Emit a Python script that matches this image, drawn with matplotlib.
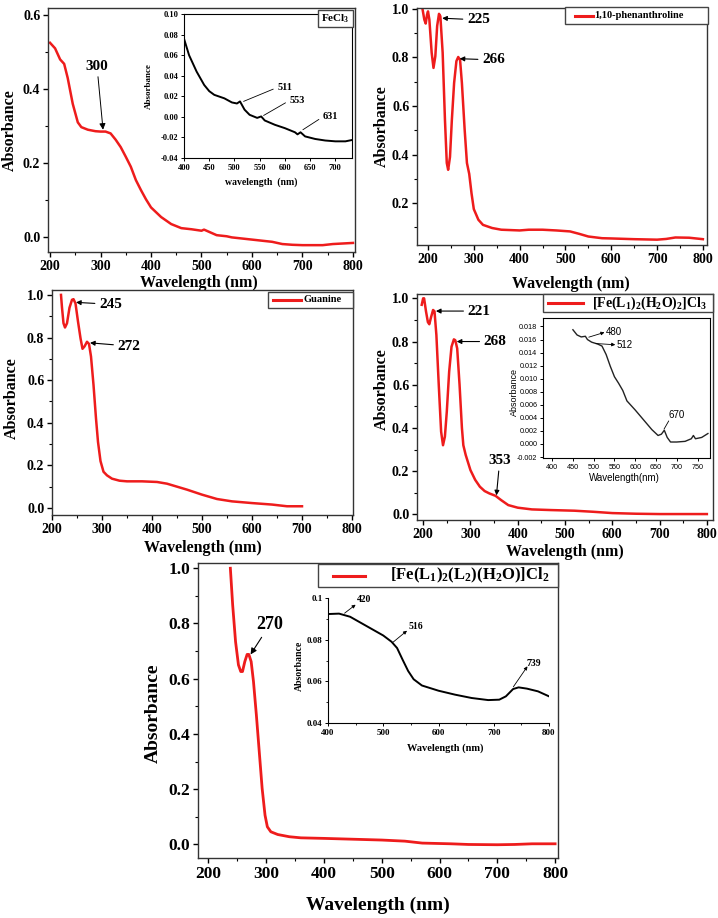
import matplotlib
matplotlib.use('Agg')
import matplotlib.pyplot as plt
from matplotlib.patches import Rectangle
from matplotlib.lines import Line2D
from matplotlib.ticker import FormatStrFormatter, MultipleLocator
import numpy as np

plt.rcParams['font.family'] = 'Liberation Serif'
plt.rcParams['font.weight'] = 'bold'
plt.rcParams['axes.labelweight'] = 'bold'
plt.rcParams['mathtext.fontset'] = 'custom'
plt.rcParams['mathtext.rm'] = 'Liberation Serif:bold'
plt.rcParams['mathtext.it'] = 'Liberation Serif:bold'
plt.rcParams['mathtext.bf'] = 'Liberation Serif:bold'

W, H = 718, 918
RED = '#ee1c1c'

# --- FeCl3 ---
fecl3_wl = [200, 210, 220, 228, 235, 245, 255, 262, 275, 290, 300, 310, 320, 330, 340, 350,
            360, 370, 380, 390, 400, 420, 440, 460, 480, 500, 505, 515, 530, 550, 560, 600,
            640, 660, 680, 700, 740, 760, 800]
fecl3_abs = [0.525, 0.51, 0.48, 0.468, 0.43, 0.36, 0.31, 0.297, 0.29, 0.286, 0.285, 0.285,
             0.28, 0.263, 0.243, 0.217, 0.19, 0.154, 0.127, 0.102, 0.08, 0.054, 0.035, 0.024,
             0.021, 0.017, 0.02, 0.014, 0.005, 0.002, -0.001, -0.007, -0.013, -0.019, -0.021,
             -0.022, -0.022, -0.019, -0.016]
fecl3_in_wl = [400, 410, 425, 440, 450, 460, 480, 495, 505, 511, 520, 530, 545, 553, 560, 580,
               600, 620, 625, 631, 640, 660, 680, 700, 720, 733]
fecl3_in_abs = [0.076, 0.06, 0.044, 0.031, 0.025, 0.0214, 0.018, 0.014, 0.013, 0.015, 0.007,
                0.002, -0.001, 0.0004, -0.0035, -0.0077, -0.011, -0.015, -0.017, -0.015,
                -0.019, -0.0215, -0.023, -0.0238, -0.0238, -0.0225]
fecl3_in_peaks = [511, 553, 631]

# --- 1,10-phenanthroline ---
phen_wl = [188, 192, 195, 198, 200, 203, 208, 212, 216, 220, 224, 227, 232, 237, 241, 244, 248,
           252, 257, 262, 266, 270, 274, 280, 285, 290, 295, 300, 310, 320, 340, 360, 400, 420,
           450, 480, 510, 530, 550, 580, 600, 650, 700, 720, 740, 770, 800]
phen_abs = [1.0, 0.956, 0.94, 0.977, 0.99, 0.956, 0.82, 0.757, 0.805, 0.93, 0.98, 0.97, 0.82,
            0.544, 0.365, 0.337, 0.39, 0.54, 0.695, 0.785, 0.802, 0.79, 0.695, 0.503, 0.365,
            0.32, 0.24, 0.175, 0.131, 0.11, 0.097, 0.09, 0.087, 0.09, 0.09, 0.087, 0.083, 0.073,
            0.062, 0.055, 0.054, 0.051, 0.049, 0.052, 0.058, 0.057, 0.051]

# --- Guanine ---
gua_wl = [218, 220, 223, 226, 230, 235, 240, 243, 247, 252, 257, 261, 265, 270, 274, 278, 283,
          288, 292, 297, 303, 310, 320, 335, 350, 380, 410, 430, 450, 470, 500, 530, 560, 600,
          640, 670, 700]
gua_abs = [1.0, 0.94, 0.867, 0.847, 0.867, 0.94, 0.977, 0.98, 0.96, 0.875, 0.797, 0.747, 0.758,
           0.78, 0.77, 0.711, 0.578, 0.42, 0.31, 0.22, 0.17, 0.153, 0.1375, 0.128, 0.125, 0.125,
           0.122, 0.114, 0.1, 0.086, 0.0625, 0.042, 0.031, 0.023, 0.016, 0.008, 0.008]

# --- [Fe(L1)2(H2O)2]Cl3 ---
c1_wl = [197, 200, 202, 206, 210, 213, 217, 221, 224, 228, 233, 238, 242, 246, 250, 255, 260,
         265, 268, 272, 277, 282, 285, 290, 300, 310, 320, 330, 340, 353, 365, 380, 400, 430,
         470, 520, 560, 600, 650, 700, 800]
c1_abs = [0.97, 1.0, 1.0, 0.94, 0.89, 0.88, 0.915, 0.946, 0.94, 0.83, 0.6, 0.383, 0.32, 0.36,
          0.475, 0.66, 0.776, 0.81, 0.806, 0.768, 0.6, 0.4, 0.32, 0.275, 0.205, 0.16, 0.128,
          0.108, 0.097, 0.086, 0.066, 0.043, 0.031, 0.023, 0.02, 0.017, 0.012, 0.006, 0.003,
          0.0015, 0.0015]
c1_in_wl = [450, 460, 470, 480, 485, 495, 510, 520, 530, 540, 550, 560, 570, 580, 600, 620, 640,
            655, 663, 670, 677, 685, 700, 720, 735, 740, 745, 760, 775]
c1_in_abs = [0.0175, 0.0167, 0.0164, 0.0165, 0.016, 0.0156, 0.0153, 0.015, 0.0137, 0.0119,
             0.0103, 0.0093, 0.0082, 0.0066, 0.0052, 0.0037, 0.0022, 0.0013, 0.0015, 0.0021,
             0.001, 0.0003, 0.0003, 0.0004, 0.0008, 0.0013, 0.0008, 0.001, 0.0016]

# --- [Fe(L1)2(L2)(H2O)]Cl2 ---
c2_wl = [238, 242, 247, 252, 256, 259, 263, 267, 270, 274, 278, 283, 288, 293, 298, 302, 308,
         320, 340, 360, 400, 450, 500, 540, 570, 620, 650, 700, 730, 760, 800]
c2_abs = [1.0, 0.867, 0.734, 0.65, 0.626, 0.626, 0.662, 0.688, 0.688, 0.662, 0.59, 0.469, 0.336,
          0.203, 0.106, 0.064, 0.046, 0.036, 0.028, 0.024, 0.022, 0.019, 0.016, 0.012, 0.005,
          0.0024, 0.0, -0.001, 0.0, 0.0024, 0.0024]
c2_in_wl = [400, 420, 440, 460, 480, 500, 515, 525, 535, 545, 555, 570, 600, 630, 660, 690, 710,
            722, 735, 745, 760, 780, 800]
c2_in_abs = [0.0923, 0.0925, 0.091, 0.088, 0.085, 0.082, 0.079, 0.076, 0.0704, 0.065, 0.061,
             0.058, 0.0555, 0.0536, 0.052, 0.051, 0.0512, 0.0528, 0.0563, 0.0571, 0.0565, 0.0552,
             0.0528]
c2_in_peaks = [420, 516, 739]

fig = plt.figure(figsize=(W / 100, H / 100), dpi=100)


def add_ax(l, t, r, b):
    return fig.add_axes([l / W, 1 - b / H, (r - l) / W, (b - t) / H])


def style_main(ax, xlim, ylim, yticks, size, xlab_pos, ylab_pos, lab_size):
    ax.set_xlim(*xlim)
    ax.set_ylim(*ylim)
    ax.set_xticks(np.arange(200, 801, 100))
    ax.xaxis.set_minor_locator(MultipleLocator(50))
    ax.set_yticks(yticks)
    ax.yaxis.set_minor_locator(MultipleLocator(0.1))
    ax.yaxis.set_major_formatter(FormatStrFormatter('%.1f'))
    ax.tick_params(which='major', length=3.5, width=1, labelsize=size, pad=2)
    ax.tick_params(which='minor', length=2, width=0.8)
    for s in ax.spines.values():
        s.set_color('#333333')
        s.set_linewidth(1)
    ax.set_xlabel('Wavelength (nm)', fontsize=lab_size, va='center')
    ax.set_ylabel('Absorbance', fontsize=lab_size, va='center')
    ax.xaxis.set_label_coords(*xlab_pos)
    ax.yaxis.set_label_coords(*ylab_pos)


def style_inset(ax, size, family='Liberation Serif', weight='bold'):
    ax.tick_params(which='major', length=2.5, width=0.7, labelsize=size, pad=1.5)
    ax.tick_params(which='minor', length=1.5, width=0.6)
    for lab in ax.get_xticklabels() + ax.get_yticklabels():
        lab.set_family(family)
        lab.set_weight(weight)
    for s in ax.spines.values():
        s.set_linewidth(0.8)


def legend_box(l, t, r, b, label, size, line=None, text_x=None):
    fig.add_artist(Rectangle((l / W, 1 - b / H), (r - l) / W, (b - t) / H,
                             transform=fig.transFigure, fc='white', ec='#444444', lw=1, zorder=5))
    yc = 1 - (t + b) / 2 / H
    if line is not None:
        fig.add_artist(Line2D([line[0] / W, line[1] / W], [yc, yc], color=RED, lw=2.2,
                              transform=fig.transFigure, zorder=6))
    fig.text(text_x / W, yc, label, fontsize=size, ha='left', va='center', zorder=7)


arrow = dict(arrowstyle='-|>', color='black', lw=0.8, mutation_scale=7, shrinkA=1, shrinkB=0)
sans = dict(family='Liberation Sans', weight='normal')

# ---------- Panel 1: FeCl3 ----------
ax1 = add_ax(48, 8, 355, 252)
ax1.plot(fecl3_wl, fecl3_abs, color=RED, lw=1.8)
style_main(ax1, (196, 804), (-0.0405, 0.619), [0.0, 0.2, 0.4, 0.6], 10,
           (0.49, -0.127), (-0.124, 0.5), 11.5)
ax1.annotate('300', xy=(305, 0.29), xytext=(293, 0.462), fontsize=11, ha='center', va='center',
             arrowprops=dict(arrow, lw=0.7, mutation_scale=9))

in1 = add_ax(184, 14, 352, 158)
in1.plot(fecl3_in_wl, fecl3_in_abs, color='black', lw=1.4)
in1.set_xlim(400, 733)
in1.set_ylim(-0.04, 0.10)
in1.set_xticks(np.arange(400, 701, 50))
in1.set_yticks(np.arange(-0.04, 0.101, 0.02))
in1.yaxis.set_major_formatter(FormatStrFormatter('%.2f'))
style_inset(in1, 6)
in1.set_xlabel('wavelength  (nm)', fontsize=7, va='center')
in1.set_ylabel('Absorbance', fontsize=6.5, va='center')
in1.xaxis.set_label_coords(0.46, -0.167)
in1.yaxis.set_label_coords(-0.21, 0.5)
for pk, (wl, ab, tx, ty) in zip(fecl3_in_peaks, [(513, 0.014, 585, 0.029),
                                                 (553, 0.0, 609, 0.016),
                                                 (631, -0.014, 675, 0.0)]):
    in1.annotate('', xy=(tx - 3, ty - 0.001), xytext=(wl, ab),
                 arrowprops=dict(arrowstyle='-', color='black', lw=0.6))
    in1.text(tx, ty, str(pk), fontsize=7.5, ha='left', va='center')
legend_box(318, 10, 353, 27, r'FeCl$_3$', 8, text_x=321)

# ---------- Panel 2: 1,10-phenanthroline ----------
ax2 = add_ax(417, 8, 707, 245)
ax2.plot(phen_wl, phen_abs, color=RED, lw=1.8)
style_main(ax2, (176, 809), (0.027, 1.004), [0.2, 0.4, 0.6, 0.8, 1.0], 10,
           (0.53, -0.165), (-0.12, 0.5), 11.5)
ax2.annotate('225', xy=(231, 0.962), xytext=(285, 0.955), fontsize=11, ha='left', va='center',
             arrowprops=arrow)
ax2.annotate('266', xy=(269, 0.795), xytext=(318, 0.79), fontsize=11, ha='left', va='center',
             arrowprops=arrow)
legend_box(565, 7, 708, 24, '1,10-phenanthroline', 7.5, line=(575, 593), text_x=594)

# ---------- Panel 3: Guanine ----------
ax3 = add_ax(52, 290, 353, 515)
ax3.plot(gua_wl, gua_abs, color=RED, lw=1.8)
style_main(ax3, (200, 802), (-0.033, 1.023), [0.0, 0.2, 0.4, 0.6, 0.8, 1.0], 10,
           (0.5, -0.147), (-0.133, 0.52), 11.5)
ax3.annotate('245', xy=(248, 0.965), xytext=(294, 0.956), fontsize=11, ha='left', va='center',
             arrowprops=arrow)
ax3.annotate('272', xy=(276, 0.775), xytext=(331, 0.76), fontsize=11, ha='left', va='center',
             arrowprops=arrow)
legend_box(268, 292, 353, 308, 'Guanine', 7.5, line=(273, 301), text_x=303)

# ---------- Panel 4: [Fe(L1)2(H2O)2]Cl3 ----------
ax4 = add_ax(417, 294, 713, 520)
ax4.plot(c1_wl, c1_abs, color=RED, lw=1.8)
style_main(ax4, (187, 813), (-0.026, 1.02), [0.0, 0.2, 0.4, 0.6, 0.8, 1.0], 10,
           (0.5, -0.142), (-0.118, 0.58), 11.5)
ax4.annotate('221', xy=(227, 0.941), xytext=(294, 0.941), fontsize=11, ha='left', va='center',
             arrowprops=arrow)
ax4.annotate('268', xy=(271, 0.80), xytext=(328, 0.80), fontsize=11, ha='left', va='center',
             arrowprops=arrow)
ax4.annotate('353', xy=(355, 0.088), xytext=(362, 0.25), fontsize=11, ha='center', va='center',
             arrowprops=arrow)

in4 = add_ax(543, 318, 710, 458)
in4.plot(c1_in_wl, c1_in_abs, color='#222222', lw=1.0)
in4.set_xlim(378, 780)
in4.set_ylim(-0.00215, 0.0193)
in4.set_xticks(np.arange(400, 751, 50))
in4.set_yticks(np.arange(-0.002, 0.0181, 0.002))
in4.yaxis.set_major_formatter(FormatStrFormatter('%.3f'))
style_inset(in4, 5.2, **sans)
in4.set_xlabel('Wavelength(nm)', fontsize=7, va='center', **sans)
in4.set_ylabel('Absorbance', fontsize=6.5, va='center', **sans)
in4.xaxis.set_label_coords(0.49, -0.143)
in4.yaxis.set_label_coords(-0.17, 0.47)
in4.annotate('', xy=(526, 0.0171), xytext=(485, 0.0163),
             arrowprops=dict(arrow, lw=0.6, mutation_scale=5))
in4.text(528, 0.0172, '480', fontsize=7, ha='left', va='center', **sans)
in4.annotate('', xy=(552, 0.0152), xytext=(502, 0.0154),
             arrowprops=dict(arrow, lw=0.6, mutation_scale=5))
in4.text(556, 0.0152, '512', fontsize=7, ha='left', va='center', **sans)
in4.annotate('', xy=(684, 0.0039), xytext=(666, 0.0019),
             arrowprops=dict(arrowstyle='-', color='black', lw=0.6))
in4.text(681, 0.0045, '670', fontsize=7, ha='left', va='center', **sans)
legend_box(543, 294, 713, 312, r'[Fe(L$_1$)$_2$(H$_2$O)$_2$]Cl$_3$', 10, line=(548, 583),
           text_x=592)

# ---------- Panel 5: [Fe(L1)2(L2)(H2O)]Cl2 ----------
ax5 = add_ax(198, 563, 558, 858)
ax5.plot(c2_wl, c2_abs, color=RED, lw=2.0)
style_main(ax5, (182, 805), (-0.049, 1.019), [0.0, 0.2, 0.4, 0.6, 0.8, 1.0], 12.5,
           (0.5, -0.16), (-0.125, 0.49), 14)
ax5.annotate('270', xy=(273, 0.688), xytext=(306, 0.795), fontsize=13, ha='center',
             va='center', arrowprops=dict(arrow, lw=0.8, mutation_scale=9))

in5 = add_ax(328, 598, 549, 723)
in5.plot(c2_in_wl, c2_in_abs, color='black', lw=1.4)
in5.set_xlim(400, 800)
in5.set_ylim(0.04, 0.1)
in5.set_xticks(np.arange(400, 801, 100))
in5.xaxis.set_minor_locator(MultipleLocator(50))
in5.set_yticks([0.04, 0.06, 0.08, 0.1])
in5.set_yticklabels(['0.04', '0.06', '0.08', '0.1'])
in5.yaxis.set_minor_locator(MultipleLocator(0.01))
in5.spines['top'].set_visible(False)
in5.spines['right'].set_visible(False)
in5.patch.set_alpha(0)
style_inset(in5, 6.5)
in5.set_xlabel('Wavelength (nm)', fontsize=7.5, va='center')
in5.set_ylabel('Absorbance', fontsize=7, va='center')
in5.xaxis.set_label_coords(0.53, -0.2)
in5.yaxis.set_label_coords(-0.13, 0.46)
for pk, (wl, ab, hx, hy, tx, ty) in zip(c2_in_peaks, [(428, 0.0923, 450, 0.0968, 452, 0.0992),
                                                      (516, 0.0784, 543, 0.0843, 546, 0.0864),
                                                      (734, 0.0568, 761, 0.0672, 759, 0.0688)]):
    in5.annotate('', xy=(hx, hy), xytext=(wl, ab),
                 arrowprops=dict(arrow, lw=0.6, mutation_scale=5))
    in5.text(tx, ty, str(pk), fontsize=7, ha='left', va='center')
legend_box(318, 564, 558, 587, r'[Fe(L$_1$)$_2$(L$_2$)(H$_2$O)]Cl$_2$', 12, line=(333, 365),
           text_x=390)

fig.savefig('out.png', dpi=100)
